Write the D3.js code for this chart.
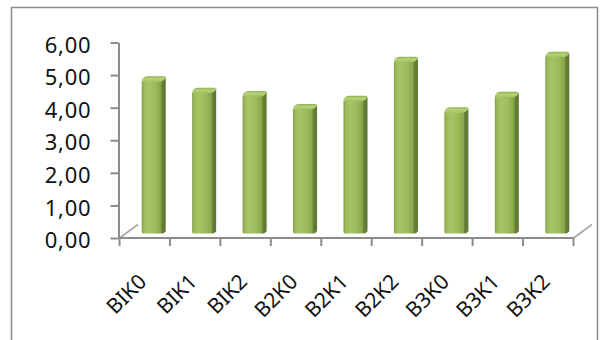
<!DOCTYPE html>
<html>
<head>
<meta charset="utf-8">
<script src="https://cdn.jsdelivr.net/npm/d3@7"></script>
<style>
  html, body { margin: 0; padding: 0; background: #ffffff; }
  svg { display: block; }
  text { font-family: "Noto Sans", "Lato", sans-serif; fill: #111; }
</style>
</head>
<body>
<script>
// Category names and measured values per treatment
const categories = ["BIK0", "BIK1", "BIK2", "B2K0", "B2K1", "B2K2", "B3K0", "B3K1", "B3K2"];
const values = [4.75, 4.40, 4.30, 3.90, 4.15, 5.35, 3.80, 4.27, 5.50];
const yTickValues = [0, 1, 2, 3, 4, 5, 6];
const yTickLabels = ["0,00", "1,00", "2,00", "3,00", "4,00", "5,00", "6,00"];

const W = 609, H = 340;
const svg = d3.select("body").append("svg").attr("width", W).attr("height", H);

// Outer chart border
svg.append("rect")
  .attr("x", 11.5).attr("y", 7.5)
  .attr("width", 586).attr("height", 360)
  .attr("fill", "none").attr("stroke", "#8a8a8a").attr("stroke-width", 1.5);

// Scales: front plane (axis) and the slightly recessed bar plane
const y = d3.scaleLinear().domain([0, 6]).range([238, 42.5]);
const depthShift = { dx: 0, dy: -4.5 };
const yBar = v => y(v) + depthShift.dy;
const x = d3.scaleBand().domain(categories).range([119.5, 573.5]).padding(0);

// Gradients for the bar faces
const defs = svg.append("defs");
const gradFront = defs.append("linearGradient").attr("id", "gFront").attr("x1", 0).attr("x2", 1).attr("y1", 0).attr("y2", 0);
[["0%", "#7f9c45"], ["12%", "#9dbd5b"], ["35%", "#a6c566"], ["70%", "#9bbb59"], ["100%", "#86a44b"]]
  .forEach(([o, c]) => gradFront.append("stop").attr("offset", o).attr("stop-color", c));
const gradSide = defs.append("linearGradient").attr("id", "gSide").attr("x1", 0).attr("x2", 1).attr("y1", 0).attr("y2", 0);
[["0%", "#6d883a"], ["100%", "#5b7430"]]
  .forEach(([o, c]) => gradSide.append("stop").attr("offset", o).attr("stop-color", c));
const gradTop = defs.append("linearGradient").attr("id", "gTop").attr("x1", 0).attr("x2", 0).attr("y1", 0).attr("y2", 1);
[["0%", "#8fae50"], ["45%", "#b6d27a"], ["100%", "#a2c162"]]
  .forEach(([o, c]) => gradTop.append("stop").attr("offset", o).attr("stop-color", c));

// Floor depth edges
const depth = { dx: 18.5, dy: -13.5 };
const floor = svg.append("g").attr("stroke", "#a6a6a6").attr("stroke-width", 1.6);
[x.range()[0], x.range()[1]].forEach(px => {
  floor.append("line")
    .attr("x1", px).attr("y1", y(0))
    .attr("x2", px + depth.dx).attr("y2", y(0) + depth.dy);
});

// Bars (3D columns)
const barW = 19.5, sideDx = 4.5, capDy = -5;
const bars = svg.append("g");
categories.forEach((c, i) => {
  const x0 = x(c) + x.bandwidth() / 2 - 3;
  const yFront = yBar(values[i]) + 2.5;
  const base = yBar(0);
  const g = bars.append("g");
  // side face
  g.append("path")
    .attr("d", `M${x0 + barW - 0.5},${yFront} L${x0 + barW + sideDx},${yFront + capDy + 1}
                L${x0 + barW + sideDx},${base + capDy + 2} Q${x0 + barW + sideDx},${base - 1} ${x0 + barW + 1},${base}
                L${x0 + barW - 0.5},${base} Z`)
    .attr("fill", "url(#gSide)");
  // front face
  g.append("path")
    .attr("d", `M${x0},${yFront} L${x0 + barW},${yFront} L${x0 + barW},${base - 1.5}
                Q${x0 + barW},${base} ${x0 + barW - 2},${base} L${x0 + 2},${base}
                Q${x0},${base} ${x0},${base - 1.5} Z`)
    .attr("fill", "url(#gFront)");
  // rounded top cap
  g.append("path")
    .attr("d", `M${x0},${yFront + 0.5}
                Q${x0},${yFront + capDy} ${x0 + sideDx + 2},${yFront + capDy}
                L${x0 + barW + sideDx - 2},${yFront + capDy}
                Q${x0 + barW + sideDx},${yFront + capDy} ${x0 + barW + sideDx},${yFront + capDy + 2}
                Q${x0 + barW + 1},${yFront + 0.5} ${x0 + barW - 1},${yFront + 0.5} Z`)
    .attr("fill", "url(#gTop)");
});

// Y axis
const yAxis = d3.axisLeft(y)
  .tickValues(yTickValues)
  .tickFormat((d, i) => yTickLabels[i])
  .tickSize(8).tickSizeOuter(0).tickPadding(19);
const gy = svg.append("g").attr("transform", "translate(118.5,0)").call(yAxis);
gy.select(".domain").attr("stroke", "#8c8c8c").attr("stroke-width", 2);
gy.selectAll(".tick line").attr("stroke", "#8c8c8c").attr("stroke-width", 2);
gy.selectAll(".tick text")
  .attr("font-size", 22).attr("letter-spacing", 0.8)
  .attr("dy", "0.44em").attr("fill", "#111");

// X axis: baseline, boundary ticks and rotated labels
const gx = svg.append("g");
gx.append("line")
  .attr("x1", x.range()[0]).attr("x2", x.range()[1])
  .attr("y1", y(0)).attr("y2", y(0))
  .attr("stroke", "#8c8c8c").attr("stroke-width", 2);
const bounds = categories.map(c => x(c)).concat([x.range()[1]]);
gx.selectAll("line.tick").data(bounds).enter().append("line")
  .attr("class", "tick")
  .attr("x1", d => d).attr("x2", d => d)
  .attr("y1", y(0)).attr("y2", y(0) + 8)
  .attr("stroke", "#8c8c8c").attr("stroke-width", 2);
gx.selectAll("text").data(categories).enter().append("text")
  .attr("transform", d => `translate(${x(d) + x.bandwidth() / 2 + 3},${283}) rotate(-45)`)
  .attr("text-anchor", "end")
  .attr("font-size", 21)
  .attr("fill", "#111")
  .text(d => d);
</script>
</body>
</html>
